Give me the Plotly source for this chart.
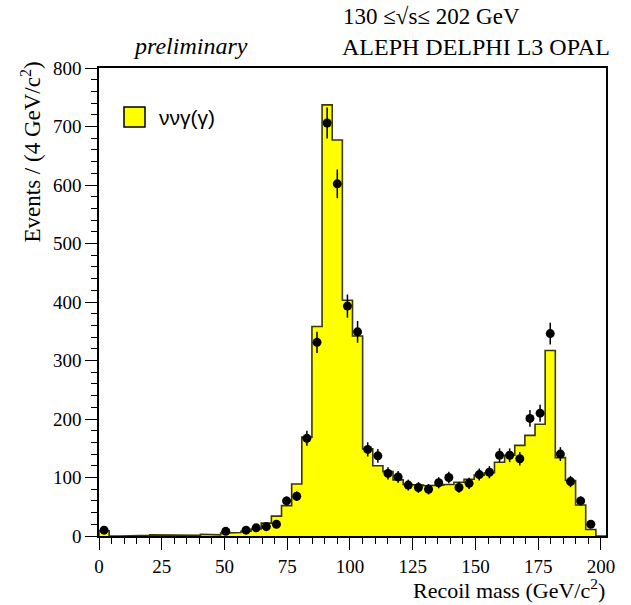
import numpy as np
import plotly.graph_objects as go

# ---------------- data ----------------
x_range = [0, 202]          # histogram range (GeV/c^2), 50 bins
mc_counts = [9, 0, 0, 1, 1, 2, 1, 2, 1, 1, 3, 2,
             5, 6, 8, 12, 22, 34, 52, 89, 169, 358, 737, 677, 403, 342,
             149, 120, 110, 96, 88, 87, 86, 87, 88, 92, 97, 104, 108, 126,
             138, 155, 172, 191, 317, 134, 95, 53, 11, 0]
data_counts = [10, None, None, None, None, None, None, None, None, None, None, None,
               8, None, 10, 14, 16, 20, 60, 68, 167, 331, 706, 602, 393, 349,
               148, 137, 107, 101, 87, 83, 80, 91, 100, 83, 90, 105, 109, 138,
               138, 132, 201, 210, 346, 140, 93, 60, 20, None]
x_ticks = [0, 25, 50, 75, 100, 125, 150, 175, 200]
y_ticks = [0, 100, 200, 300, 400, 500, 600, 700, 800]
legend_label = "ννγ(γ)"

# ---------------- derived ----------------
nb = len(mc_counts)
edges = np.linspace(x_range[0], x_range[1], nb + 1)
centers = 0.5 * (edges[:-1] + edges[1:])

# step outline of the expected histogram
sx, sy = [edges[0]], [0]
for i in range(nb):
    sx += [edges[i], edges[i + 1]]
    sy += [mc_counts[i], mc_counts[i]]
sx.append(edges[-1]); sy.append(0)

dx = [c for c, v in zip(centers, data_counts) if v is not None]
dy = [v for v in data_counts if v is not None]
de = [np.sqrt(v) for v in dy]

serif = "Liberation Serif"

fig = go.Figure()
fig.add_trace(go.Scatter(
    x=sx, y=sy, mode="lines", fill="tozeroy",
    fillcolor="#ffff00", line=dict(color="#3a3a00", width=1.6),
    hoverinfo="skip", showlegend=False))
fig.add_trace(go.Scatter(
    x=dx, y=dy, mode="markers",
    marker=dict(color="black", size=9, symbol="circle"),
    error_y=dict(type="data", array=de, visible=True, color="black",
                 thickness=1.5, width=0),
    showlegend=False))

axis_common = dict(
    showline=True, linecolor="black", linewidth=1.5, mirror=True,
    showgrid=False, zeroline=False, ticks="outside", tickcolor="black",
    tickwidth=1.2, ticklen=12,
    tickfont=dict(family=serif, size=19, color="black"),
)
fig.update_xaxes(range=x_range, tickvals=x_ticks,
                 minor=dict(dtick=5, ticks="outside", ticklen=6,
                            tickcolor="black", tickwidth=1.2),
                 **axis_common)
fig.update_yaxes(range=[0, 800], tickvals=y_ticks,
                 minor=dict(dtick=20, ticks="outside", ticklen=6,
                            tickcolor="black", tickwidth=1.2),
                 **axis_common)

W, H = 631, 605
L, R, T, B = 99, 606, 68, 536


def px(xp):
    return (xp - L) / (R - L)


def py(yp):
    return (B - yp) / (B - T)


ann = []
ann.append(dict(text="130 ≤√s≤ 202 GeV", x=px(341), y=py(17), xanchor="left",
                yanchor="middle", font=dict(family=serif, size=23, color="black")))
ann.append(dict(text="ALEPH DELPHI L3 OPAL", x=px(340), y=py(47), xanchor="left",
                yanchor="middle", font=dict(family=serif, size=24, color="black")))
ann.append(dict(text="<i>preliminary</i>", x=px(131), y=py(46), xanchor="left",
                yanchor="middle", font=dict(family=serif, size=24, color="black")))
ann.append(dict(text=legend_label, x=px(157), y=py(118), xanchor="left",
                yanchor="middle", font=dict(family="Liberation Sans", size=21, color="black")))
ann.append(dict(text="Recoil mass (GeV/c<sup>2</sup>)", x=px(607), y=py(589),
                xanchor="right", yanchor="middle",
                font=dict(family=serif, size=22, color="black")))
ann.append(dict(text="Events / (4 GeV/c<sup>2</sup>)", x=px(31), y=py(60),
                xanchor="center", yanchor="top", textangle=-90,
                font=dict(family=serif, size=23, color="black")))
for a in ann:
    a.update(xref="paper", yref="paper", showarrow=False)

fig.update_layout(
    width=W, height=H,
    margin=dict(l=L, r=W - R, t=T, b=H - B),
    paper_bgcolor="white", plot_bgcolor="white",
    annotations=ann,
    shapes=[dict(type="rect", xref="paper", yref="paper",
                 x0=px(124), x1=px(145), y0=py(127), y1=py(107),
                 fillcolor="#ffff00", line=dict(color="black", width=1.5))],
)

fig.write_html("out.html")
